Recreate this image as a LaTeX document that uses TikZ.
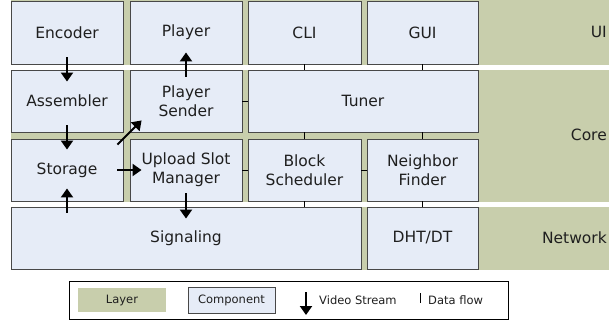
\documentclass[tikz,border=0pt]{standalone}
\usepackage{fontspec}
\setmainfont{DejaVu Sans}
\usetikzlibrary{arrows.meta}
\definecolor{laygreen}{RGB}{200,206,172}
\definecolor{compfill}{RGB}{230,236,247}
\definecolor{compedge}{RGB}{72,72,72}
\begin{document}
\begin{tikzpicture}[x=1pt,y=-1pt,
  font=\fontsize{15.5}{19}\selectfont,
  comp/.style={draw=compedge, fill=compfill, line width=0.9pt, inner sep=0pt, align=center, text=black!88},
  laylabel/.style={inner sep=0pt, anchor=east, text=black!88},
  flow/.style={line width=0.9pt, draw=black},
  vs/.style={line width=2pt, draw=black, -{Triangle[width=12pt,length=9pt]}},
  legtext/.style={font=\fontsize{11.5}{14}\selectfont, inner sep=0pt, text=black!88}]
\useasboundingbox (0,0) rectangle (609,322);
% layers
\fill[laygreen] (11,0) rectangle (609,64.5);
\fill[laygreen] (11,69.5) rectangle (609,201.5);
\fill[laygreen] (11,206.5) rectangle (609,269.5);
\node[laylabel] (lui) at (607,32) {UI};
\node[laylabel] (lcore) at (607,135) {Core};
\node[laylabel] (lnet) at (607,238) {Network};
% UI row
\node[comp, minimum width=112, minimum height=63] (enc) at (67,32.5) {Encoder};
\node[comp, minimum width=112, minimum height=63] (ply) at (186,32.5) {Player};
\node[comp, minimum width=113, minimum height=63] (cli) at (304.5,32.5) {CLI};
\node[comp, minimum width=111, minimum height=63] (gui) at (422.5,32.5) {GUI};
% Core row 1
\node[comp, minimum width=112, minimum height=62] (asm) at (67,101) {Assembler};
\node[comp, minimum width=112, minimum height=62] (ps) at (186,101) {Player\\Sender};
\node[comp, minimum width=230, minimum height=62] (tun) at (363,101) {Tuner};
% Core row 2
\node[comp, minimum width=112, minimum height=62] (sto) at (67,170) {Storage};
\node[comp, minimum width=112, minimum height=62] (usm) at (186,170) {Upload Slot\\Manager};
\node[comp, minimum width=113, minimum height=62] (bs) at (304.5,170) {Block\\Scheduler};
\node[comp, minimum width=111, minimum height=62] (nf) at (422.5,170) {Neighbor\\Finder};
% Network row
\node[comp, minimum width=350, minimum height=62] (sig) at (186,238) {Signaling};
\node[comp, minimum width=111, minimum height=62] (dht) at (422.5,238) {DHT/DT};
% data flow ticks
\draw[flow] (cli.south) -- (cli.south |- tun.north);
\draw[flow] (gui.south) -- (gui.south |- tun.north);
\draw[flow] (ps.east) -- (tun.west |- ps.east);
\draw[flow] (bs.north) -- (bs.north |- tun.south);
\draw[flow] (nf.north) -- (nf.north |- tun.south);
\draw[flow] (usm.east) -- (bs.west |- usm.east);
\draw[flow] (bs.east) -- (nf.west);
\draw[flow] (bs.south) -- (bs.south |- sig.north);
\draw[flow] (nf.south) -- (dht.north);
% video stream arrows
\draw[vs, shorten <=-7pt, shorten >=-12pt] (enc.south) -- (asm.north);
\draw[vs, shorten <=-7pt, shorten >=-11pt] (asm.south) -- (sto.north);
\draw[vs, shorten <=-6pt, shorten >=-13pt] (sto.south |- sig.north) -- (sto.south);
\draw[vs, shorten <=-6pt, shorten >=-12pt] (sto.east) -- (usm.west);
\draw[vs, shorten <=-8.5pt, shorten >=-17pt] (sto.north east) -- (ps.south west);
\draw[vs, shorten <=-7pt, shorten >=-12pt] (ps.north) -- (ply.south);
\draw[vs, shorten <=-8pt, shorten >=-12pt] (usm.south) -- (usm.south |- sig.north);
% legend
\node[draw=black, line width=1pt, fill=white, minimum width=439, minimum height=38, inner sep=0pt] (legend) at (288.5,300) {};
\node[fill=laygreen, minimum width=88, minimum height=24, inner sep=0pt, legtext] (lglayer) at (122,300) {Layer};
\node[comp, minimum width=87, minimum height=26, legtext] (lgcomp) at (231.5,300) {Component};
\coordinate (lva) at (306,292);
\coordinate (lvb) at (306,315);
\draw[vs] (lva) -- (lvb);
\node[legtext, anchor=west] (lgvs) at (319,300) {Video Stream};
\coordinate (lfa) at (420,293);
\coordinate (lfb) at (420,303);
\draw[flow] (lfa) -- (lfb);
\node[legtext, anchor=west] (lgdf) at (428,300) {Data flow};
\end{tikzpicture}
\end{document}
